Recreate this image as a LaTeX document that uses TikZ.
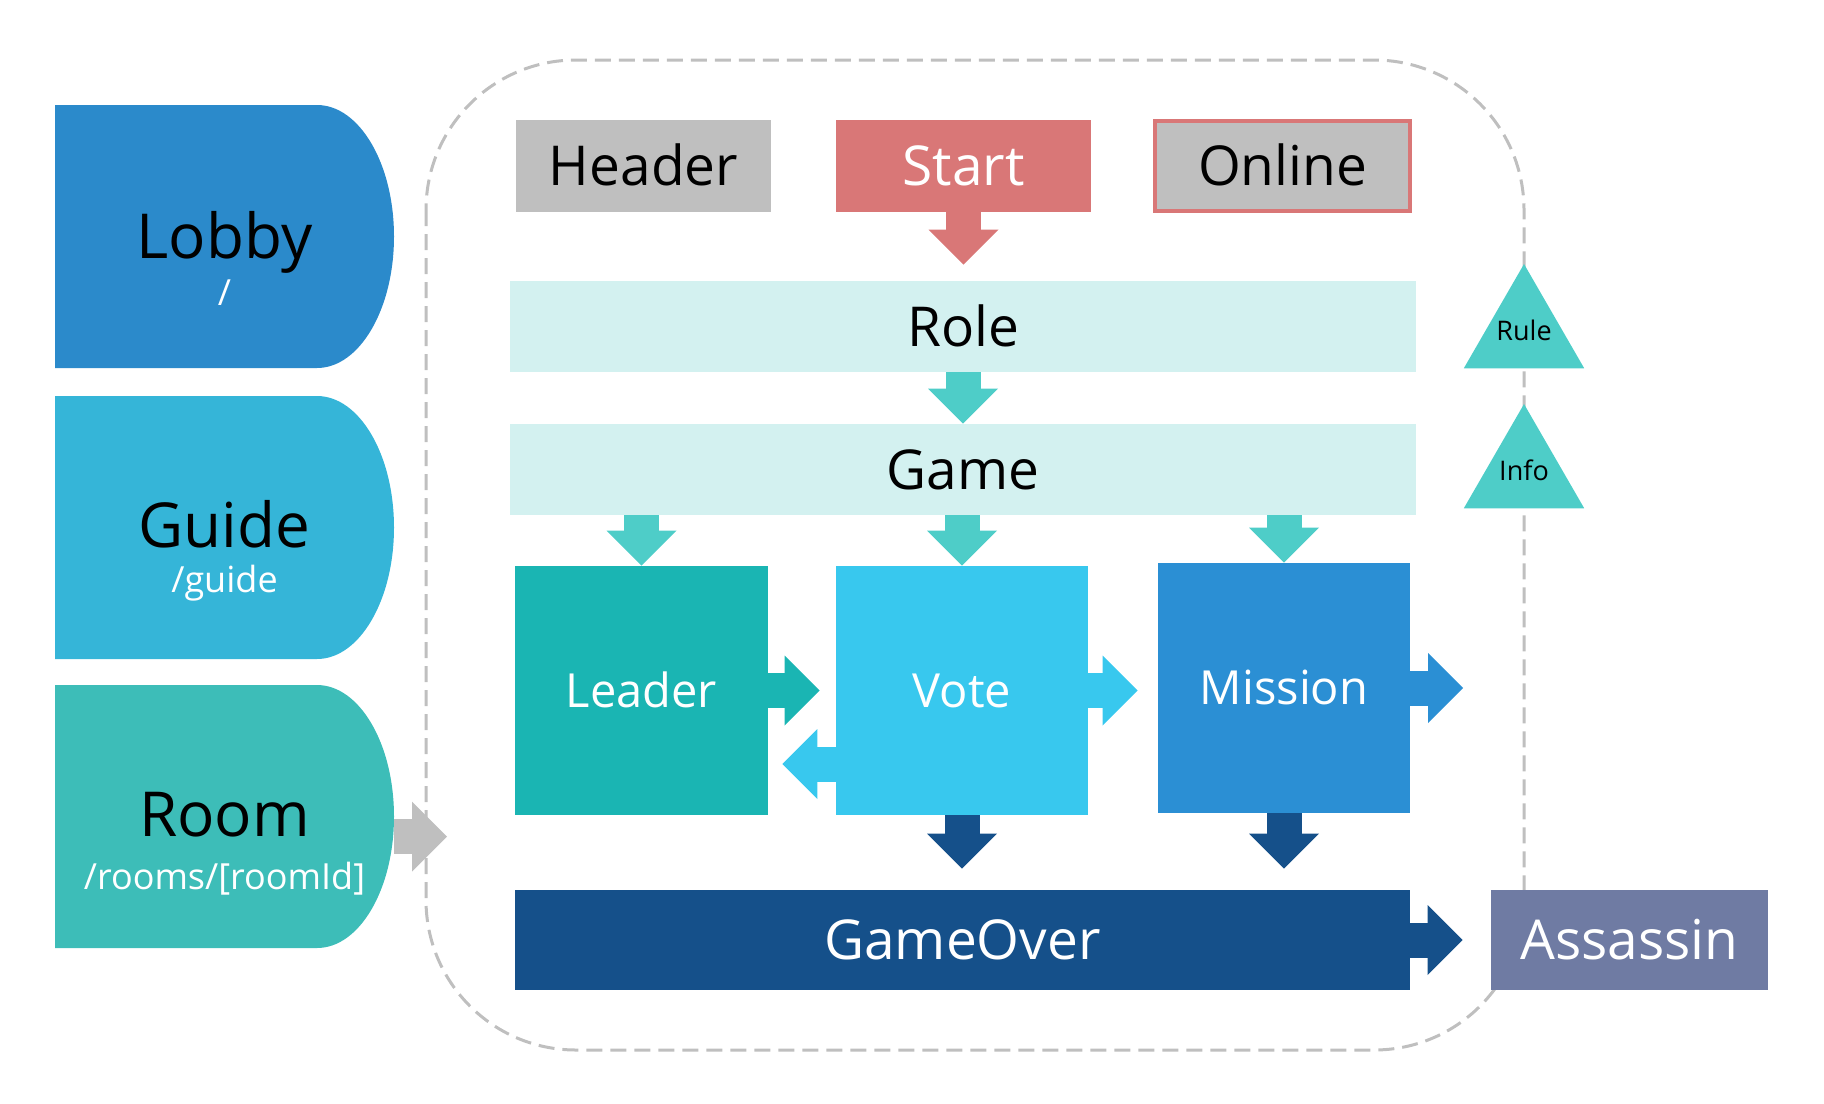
\documentclass[tikz,border=0pt]{standalone}
\usepackage{fontspec}
\setmainfont{Open Sans}
\usetikzlibrary{arrows.meta,shapes.geometric}

\definecolor{lobbyblue}{HTML}{2B8ACB}
\definecolor{guideblue}{HTML}{35B5D8}
\definecolor{roomteal}{HTML}{3DBDB8}
\definecolor{boxgray}{HTML}{BFBFBF}
\definecolor{startred}{HTML}{D97777}
\definecolor{barcyan}{HTML}{D3F1F0}
\definecolor{arrowteal}{HTML}{4ECDC8}
\definecolor{leaderteal}{HTML}{1AB5B3}
\definecolor{votecyan}{HTML}{38C8EE}
\definecolor{missionblue}{HTML}{2B8FD4}
\definecolor{overblue}{HTML}{15508A}
\definecolor{assassinslate}{HTML}{6F7BA3}

\begin{document}
\begin{tikzpicture}[x=0.5pt, y=0.5pt,
    dshape/.style={minimum width=169.5pt, minimum height=131.5pt, inner sep=0pt,
        path picture={\fill[#1] (path picture bounding box.north west)
            -- ([xshift=-38.5pt]path picture bounding box.north east)
            arc[start angle=90, end angle=-90, x radius=38.5pt, y radius=65.75pt]
            -- (path picture bounding box.south west) -- cycle;}},
    bigname/.style={anchor=base, font=\fontsize{31}{31}\selectfont},
    pathname/.style={anchor=base, text=white, font=\fontsize{18}{18}\selectfont},
    box/.style={rectangle, inner sep=0pt, text height=19.6pt, text depth=0pt,
        font=\fontsize{27.5}{27.5}\selectfont},
    stagebox/.style={rectangle, inner sep=0pt, text height=16.8pt, text depth=0pt,
        text=white, font=\fontsize{23.5}{23.5}\selectfont},
    tri/.style={regular polygon, regular polygon sides=3, minimum size=69.5pt,
        inner sep=0pt, fill=arrowteal,
        label={[font=\fontsize{13.5}{13.5}\selectfont, yshift=1.5pt]center:#1}},
    barrow/.style={line width=17.5pt, -{Triangle[length=17.5pt, width=35pt, line width=0pt]}},
    frame/.style={draw=boxgray, line width=1.5pt, dash pattern=on 8pt off 4pt, rounded corners=75pt}
]
\useasboundingbox (0,0) rectangle (1824,-1103);

% Pages
\node[dshape=lobbyblue] (lobby) at (224.5,-236.5) {};
\node[dshape=guideblue] (guide) at (224.5,-527.5) {};
\node[dshape=roomteal] (room) at (224.5,-816.5) {};
\node[bigname] (lobbyname) at (224.5,-258) {Lobby};
\node[pathname] (lobbypath) at (224.5,-305) {/};
\node[bigname] (guidename) at (224.5,-547) {Guide};
\node[pathname] (guidepath) at (224.5,-592) {/guide};
\node[bigname] (roomname) at (224.5,-836) {Room};
\node[pathname] (roompath) at (224.5,-889) {/rooms/[roomId]};

% Room components
\draw[frame] (426,-60) rectangle (1524,-1050);

% Top row
\node[box, fill=boxgray, minimum width=127.5pt, minimum height=46pt] (header) at (643.5,-166) {Header};
\node[box, fill=startred, text=white, minimum width=127.5pt, minimum height=46pt] (start) at (963.5,-166) {Start};
\node[box, fill=boxgray, draw=startred, line width=2pt, minimum width=127.5pt, minimum height=45pt] (online) at (1282.5,-166) {Online};

% Bars
\node[box, fill=barcyan, minimum width=453pt, minimum height=45.5pt] (role) at (963,-326.5) {Role};
\node[box, fill=barcyan, minimum width=453pt, minimum height=45.5pt] (game) at (963,-469.5) {Game};

% Stages
\node[stagebox, fill=leaderteal, minimum width=126.5pt, minimum height=124.5pt] (leader) at (641.5,-690.5) {Leader};
\node[stagebox, fill=votecyan, minimum width=126pt, minimum height=124.5pt] (vote) at (962,-690.5) {Vote};
\node[stagebox, fill=missionblue, minimum width=126pt, minimum height=125pt] (mission) at (1284,-688) {Mission};

% End
\node[box, fill=overblue, text=white, minimum width=447.5pt, minimum height=50pt] (gameover) at (962.5,-940) {GameOver};
\node[box, fill=assassinslate, text=white, minimum width=138.5pt, minimum height=50pt] (assassin) at (1629.5,-940) {Assassin};

% Side panels
\node[tri=Rule] (rule) at (1524,-333.5) {};
\node[tri=Info] (info) at (1524,-473.5) {};

% Flow
\coordinate (roomin) at (447,-836.5);
\coordinate (missionout) at (1463,-688);
\draw[barrow, boxgray] ([yshift=-10pt]room.east) -- (roomin);
\draw[barrow, startred, shorten >=8pt] (start.south) -- (start.south |- role.north);
\draw[barrow, arrowteal] (role.south) -- (game.north);
\draw[barrow, arrowteal] (game.south -| leader.north) -- (leader.north);
\draw[barrow, arrowteal] (game.south -| vote.north) -- (vote.north);
\draw[barrow, arrowteal] (game.south -| mission.north) -- (mission.north);
\draw[barrow, leaderteal, shorten >=8pt] (leader.east) -- (leader.east -| vote.west);
\draw[barrow, votecyan, shorten >=7pt] ([yshift=-36.75pt]vote.west) -- ([yshift=-36.75pt]vote.west -| leader.east);
\draw[barrow, votecyan, shorten >=10pt] (vote.east) -- (vote.east -| mission.west);
\draw[barrow, missionblue] (mission.east) -- (missionout);
\draw[barrow, overblue, shorten >=10.5pt] (vote.south) -- (vote.south |- gameover.north);
\draw[barrow, overblue, shorten >=10.5pt] (mission.south) -- (mission.south |- gameover.north);
\draw[barrow, overblue, shorten >=14pt] (gameover.east) -- (assassin.west);
\end{tikzpicture}
\end{document}
